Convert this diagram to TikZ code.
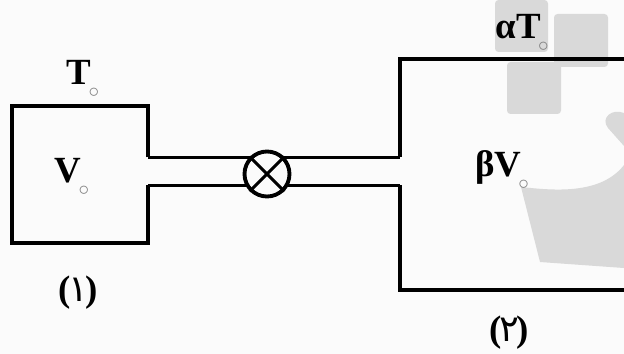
\documentclass[tikz,border=0pt]{standalone}
\usepackage{fontspec}
\setmainfont{Liberation Serif}
\newfontfamily\digitfont[Script=Arabic]{DejaVu Sans}
\definecolor{paper}{HTML}{FBFBFB}
\definecolor{stamp}{HTML}{D9D9D9}
\newcommand{\zerosub}{\kern-1.5pt\raisebox{-0.75ex}{\fontsize{13}{13}\selectfont\color{gray}$\circ$}}
\newcommand{\vesselno}[1]{(\kern-1.5pt{\digitfont\mdseries #1}\kern-1.5pt)}
\tikzset{
    wall/.style={line width=2pt, line join=miter, line cap=butt},
    quantity/.style={font=\fontsize{21}{24}\selectfont\bfseries, inner sep=0pt},
    vesselname/.style={font=\fontsize{21}{24}\selectfont\bfseries, inner sep=0pt},
    stampbox/.style={fill=stamp, rounded corners=2pt},
}
\begin{document}
\begin{tikzpicture}[x=0.02cm, y=-0.02cm]
    \useasboundingbox (0,0) rectangle (624,354);
    \fill[paper] (0,0) rectangle (624,354);
    % grey marks behind the drawing
    \fill[stampbox] (495,0) rectangle (548,52);
    \fill[stampbox] (554,14) rectangle (608,67);
    \fill[stampbox] (507,62) rectangle (561,114);
    \fill[stamp] (521,187) .. controls (550,190) and (600,196) .. (624,165) -- (624,146)
        -- (608,128) .. controls (600,118) and (612,108) .. (624,113) -- (624,268) -- (540,262) -- cycle;
    % corners of the vessels
    \coordinate (openA) at (148,157.5);
    \coordinate (openB) at (148,185.5);
    \coordinate (openC) at (400,157.5);
    \coordinate (openD) at (400,185.5);
    \draw[wall] (openA) -- (148,106) -- (12,106) -- (12,243) -- (148,243) -- (openB);
    \draw[wall] (openC) -- (400,59) -- (624,59);
    \draw[wall] (openD) -- (400,290) -- (624,290);
    \draw[wall] (openA) -- (openC);
    \draw[wall] (openB) -- (openD);
    \node[draw, circle, line width=2.2pt, fill=paper, minimum size=0.9cm, inner sep=0pt] (valve) at (267,174) {};
    \draw[line width=1.8pt] (valve.45) -- (valve.225);
    \draw[line width=1.8pt] (valve.135) -- (valve.315);
    \node[quantity] (tempA) at (83,79) {T\zerosub};
    \node[quantity] (volA) at (72,177) {V\zerosub};
    \node[quantity] (tempB) at (522,33) {αT\zerosub};
    \node[quantity] (volB) at (502,170) {βV\zerosub};
    \node[vesselname] (nameA) at (78,293) {\vesselno{۱}};
    \node[vesselname] (nameB) at (509,333) {\vesselno{۲}};
\end{tikzpicture}
\end{document}
